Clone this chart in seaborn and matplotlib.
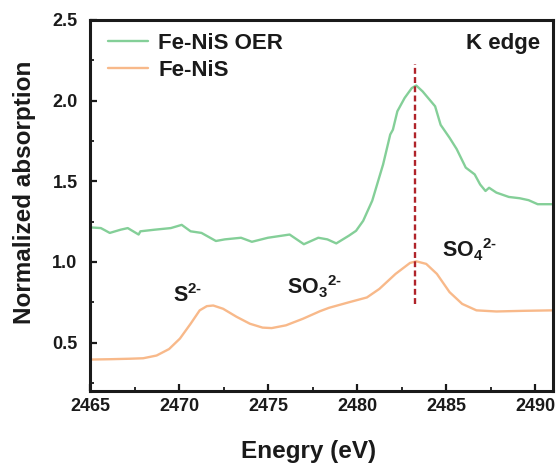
import numpy as np
import pandas as pd
import matplotlib
matplotlib.use("Agg")
import matplotlib.pyplot as plt
import seaborn as sns

# Fe-NiS OER (green)
oer_x = [2465.07, 2465.61, 2466.11, 2466.72, 2467.12, 2467.73, 2467.83, 2468.63, 2469.54, 2470.15,
         2470.65, 2471.26, 2472.07, 2472.57, 2473.48, 2474.09, 2474.99, 2476.21, 2477.01, 2477.82,
         2478.33, 2478.83, 2479.54, 2479.94, 2480.34, 2480.85, 2481.46, 2481.86, 2482.01, 2482.26,
         2482.67, 2483.07, 2483.32, 2483.68, 2484.38, 2484.69, 2485.19, 2485.59, 2486.10, 2486.60,
         2486.91, 2487.21, 2487.41, 2487.82, 2488.52, 2489.13, 2489.63, 2490.14, 2491.0]
oer_y = [1.214, 1.21, 1.18, 1.20, 1.21, 1.17, 1.19, 1.20, 1.21, 1.23,
         1.19, 1.18, 1.13, 1.14, 1.15, 1.125, 1.15, 1.17, 1.11, 1.15,
         1.14, 1.115, 1.163, 1.193, 1.255, 1.38, 1.605, 1.79, 1.82, 1.934,
         2.017, 2.078, 2.094, 2.057, 1.965, 1.85, 1.77, 1.70, 1.585, 1.543,
         1.48, 1.44, 1.46, 1.43, 1.403, 1.395, 1.383, 1.358, 1.358]

# Fe-NiS (orange)
nis_x = [2465.0, 2466.11, 2467.22, 2467.99, 2468.74, 2469.44, 2470.05, 2470.65, 2471.16, 2471.56,
         2471.92, 2472.47, 2473.23, 2473.98, 2474.69, 2475.20, 2476.00, 2476.96, 2477.92, 2478.43,
         2479.54, 2480.55, 2481.25, 2482.16, 2482.97, 2483.32, 2483.88, 2484.48, 2485.19, 2485.90,
         2486.70, 2487.82, 2489.33, 2491.0]
nis_y = [0.395, 0.397, 0.40, 0.403, 0.42, 0.46, 0.525, 0.617, 0.70, 0.726,
         0.73, 0.71, 0.66, 0.617, 0.593, 0.59, 0.607, 0.648, 0.695, 0.716,
         0.75, 0.78, 0.833, 0.926, 0.994, 1.004, 0.988, 0.926, 0.813, 0.74,
         0.70, 0.693, 0.697, 0.70]

x_ticks = [2465, 2470, 2475, 2480, 2485, 2490]
y_ticks = [0.5, 1.0, 1.5, 2.0, 2.5]
edge_x = 2483.27

df = pd.concat([
    pd.DataFrame({"Energy": oer_x, "Abs": oer_y, "Sample": "Fe-NiS OER"}),
    pd.DataFrame({"Energy": nis_x, "Abs": nis_y, "Sample": "Fe-NiS"}),
])

sns.set_theme(style="ticks")
plt.rcParams["font.family"] = ["Liberation Sans", "DejaVu Sans"]
plt.rcParams["font.weight"] = "bold"
plt.rcParams["mathtext.fontset"] = "custom"
plt.rcParams["mathtext.rm"] = "Liberation Sans:bold"
plt.rcParams["mathtext.bf"] = "Liberation Sans:bold"
plt.rcParams["mathtext.it"] = "Liberation Sans:bold"
plt.rcParams["mathtext.default"] = "rm"

fig = plt.figure(figsize=(5.57, 4.68), dpi=100)
ax = fig.add_axes([90/557, 77/468, 463/557, 371/468])

palette = {"Fe-NiS OER": "#84cf98", "Fe-NiS": "#f8b98a"}
sns.lineplot(data=df, x="Energy", y="Abs", hue="Sample", palette=palette,
             linewidth=1.7, ax=ax, sort=False, estimator=None)

ax.axvline(edge_x, ymin=(0.74-0.2)/2.3, ymax=(2.23-0.2)/2.3, color="#b0232a",
           linestyle=(0, (2.5, 1.4)), linewidth=1.7)

ax.set_xlim(2465, 2491)
ax.set_ylim(0.2, 2.5)
ax.set_xticks(x_ticks)
ax.set_yticks(y_ticks)
ax.set_xticks(np.arange(2467.5, 2491, 5), minor=True)
ax.set_yticks([0.25, 0.75, 1.25, 1.75, 2.25], minor=True)
ax.tick_params(which="major", direction="in", length=5, width=1.6, labelsize=13,
               colors="#1a1a1a")
ax.tick_params(axis="x", which="major", pad=5)
ax.tick_params(axis="y", which="major", pad=9)
ax.tick_params(which="minor", direction="in", length=3, width=1.3, colors="#1a1a1a")
for lbl in ax.get_xticklabels() + ax.get_yticklabels():
    lbl.set_fontweight("bold")
for s in ax.spines.values():
    s.set_linewidth(2.2)
    s.set_color("#1a1a1a")

ax.set_xlabel("Enegry (eV)", fontsize=17.5, fontweight="bold", color="#1a1a1a")
ax.xaxis.set_label_coords(0.471, -0.133)
ax.set_ylabel("Normalized absorption", fontsize=17.5, fontweight="bold", color="#1a1a1a")
ax.yaxis.set_label_coords(-0.117, 0.536)

leg = ax.legend(loc="upper left", bbox_to_anchor=(0.02, 0.99), frameon=False,
                handlelength=1.8, handletextpad=0.45, borderaxespad=0.0,
                labelspacing=0.3, prop={"weight": "bold", "size": 16})
for line in leg.get_lines():
    line.set_linewidth(1.7)
for t in leg.get_texts():
    t.set_color("#1a1a1a")

ax.text(0.972, 0.938, "K edge", transform=ax.transAxes, ha="right", va="center",
        fontsize=16, fontweight="bold", color="#1a1a1a")
ax.text(2469.65, 0.753, r"S$^{2\text{-}}$", ha="left", va="baseline", fontsize=15.5,
        color="#1a1a1a")
ax.text(2476.09, 0.80, r"SO$_3$$^{2\text{-}}$", ha="left", va="baseline", fontsize=15.5,
        color="#1a1a1a")
ax.text(2484.79, 1.03, r"SO$_4$$^{2\text{-}}$", ha="left", va="baseline", fontsize=15.5,
        color="#1a1a1a")

fig.savefig("out.png", dpi=100)
